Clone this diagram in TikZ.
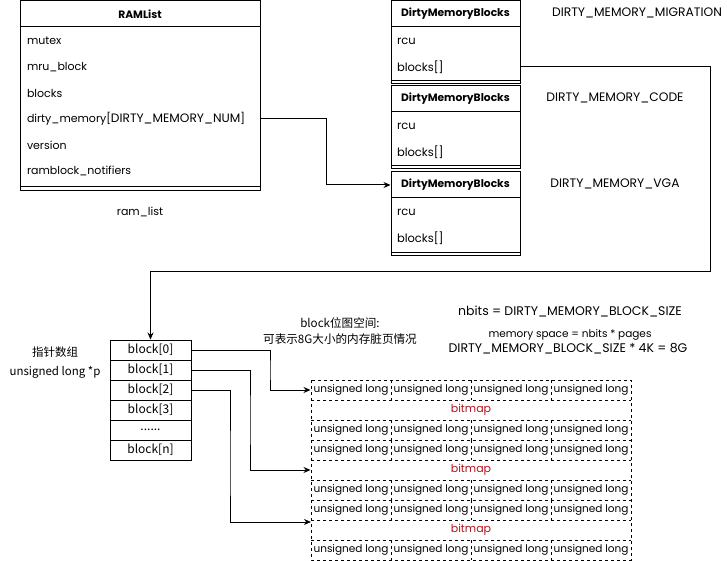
\documentclass[tikz,border=0pt]{standalone}
\usepackage{fontspec}
\setmainfont{Poppins}
\newfontfamily\cjk{Noto Sans CJK SC}
\usetikzlibrary{arrows.meta}
\definecolor{bmred}{RGB}{180,20,30}
\begin{document}
\begin{tikzpicture}[x=1pt,y=-1pt,line width=1pt,
  >={Stealth[length=7pt,width=6pt]},
  txt/.style={inner sep=0pt,font=\fontsize{11}{13}\selectfont},
  caps/.style={inner sep=0pt,font=\fontsize{12.3}{14}\selectfont},
  ttl/.style={inner sep=0pt,minimum height=26pt,font=\fontsize{10.7}{13}\selectfont\bfseries},
  rowA/.style={inner xsep=7pt,inner ysep=0pt,minimum height=26pt,text width=226pt,align=left,font=\fontsize{11}{13}\selectfont},
  rowB/.style={inner xsep=6pt,inner ysep=0pt,minimum height=26pt,text width=117pt,align=left,font=\fontsize{11.5}{13}\selectfont},
  cell/.style={draw,minimum width=81pt,minimum height=20pt,inner sep=0pt,font=\cjk\fontsize{12}{14}\selectfont},
  ul/.style={inner sep=0pt,font=\fontsize{10.5}{12}\selectfont},
  bm/.style={inner sep=0pt,text=bmred,font=\fontsize{11}{13}\selectfont},
  grid/.style={dash pattern=on 3pt off 3pt,line width=0.8pt},
  link/.style={->,line width=1pt}]
\useasboundingbox (0,0) rectangle (727,561);
% RAMList
\draw (20,1) rectangle (260,191);
\draw (20,27) -- (260,27);
\draw (20,187) -- (260,187);
\node[ttl,minimum width=240pt] (ramt) at (140,14) {RAMList};
\node[rowA] (r1) at (140,41) {mutex};
\node[rowA] (r2) at (140,67) {mru\_block};
\node[rowA] (r3) at (140,93) {blocks};
\node[rowA] (r4) at (140,119) {dirty\_memory[{\fontsize{12.2}{13}\selectfont DIRTY\_MEMORY\_NUM}]};
\node[rowA] (r5) at (140,145) {version};
\node[rowA] (r6) at (140,171) {ramblock\_notifiers};
\node[txt] (rl) at (140,212) {ram\_list};
% DirtyMemoryBlocks
\foreach \i/\t in {1/1,2/86,3/172}{
  \draw (391,\t) rectangle (520,\t+83);
  \draw (391,\t+26) -- (520,\t+26);
  \draw (391,\t+80) -- (520,\t+80);
  \node[ttl,minimum width=129pt] (d\i h) at (455.5,\t+13) {DirtyMemoryBlocks};
  \node[rowB] (d\i r) at (455.5,\t+40) {rcu};
  \node[rowB] (d\i b) at (455.5,\t+66) {blocks[]};
}
\node[caps] (lm) at (637,13) {DIRTY\_MEMORY\_MIGRATION};
\node[caps] (lc) at (615,98) {DIRTY\_MEMORY\_CODE};
\node[caps] (lv) at (615,184) {DIRTY\_MEMORY\_VGA};
% pointer array
\node[cell] (blk0) at (150.5,350) {block[0]};
\node[cell] (blk1) at (150.5,370) {block[1]};
\node[cell] (blk2) at (150.5,390) {block[2]};
\node[cell] (blk3) at (150.5,410) {block[3]};
\node[cell] (blkd) at (150.5,430) {......};
\node[cell] (blkn) at (150.5,450) {block[n]};
\node[inner sep=0pt,font=\cjk\fontsize{11.5}{13}\selectfont] (pa) at (55,352) {指针数组};
\node[inner sep=0pt,font=\cjk\fontsize{11.5}{13}\selectfont] (pt) at (55,372) {unsigned long *p};
\node[inner sep=0pt,align=center,font=\cjk\fontsize{11.6}{16}\selectfont] (bs) at (340,331) {block位图空间:\\可表示8G大小的内存脏页情况};
\node[caps,font=\fontsize{12.5}{14}\selectfont] (nb) at (570,312) {nbits = DIRTY\_MEMORY\_BLOCK\_SIZE};
\node[txt,font=\fontsize{10.5}{13}\selectfont] (ms) at (570,335) {memory space = nbits * pages};
\node[caps,font=\fontsize{12.5}{14}\selectfont] (eq) at (568,349) {DIRTY\_MEMORY\_BLOCK\_SIZE * 4K = 8G};
% bitmap grid
\draw[grid] (311,380) rectangle (631,560);
\foreach \y in {400,420,...,540} \draw[grid] (311,\y) -- (631,\y);
\foreach \r in {0,2,3,5,6,8}{
  \foreach \x in {391,471,551} \draw[grid] (\x,380+20*\r) -- (\x,400+20*\r);
  \foreach \c in {0,1,2,3} \node[ul] at (351+80*\c,390+20*\r) {unsigned long};
}
\foreach \r in {1,4,7} \node[bm] at (471,390+20*\r) {bitmap};
\node[minimum width=320pt,minimum height=20pt,inner sep=0pt] (g0) at (471,390) {};
\node[minimum width=320pt,minimum height=20pt,inner sep=0pt] (g4) at (471,470) {};
\coordinate (a3) at (311,522);
% connectors
\draw[link] (r4.east) -- (326,119) |- (d3h.west);
\draw[link] (d1b.east) -| (710,271) -| (blk0.north);
\draw[link] (blk0.east) -| (270,370) |- (g0.west);
\draw[link] (blk1.east) -| (250,420) |- (g4.west);
\draw[link] (blk2.east) -| (230,470) |- (a3);
\end{tikzpicture}
\end{document}
